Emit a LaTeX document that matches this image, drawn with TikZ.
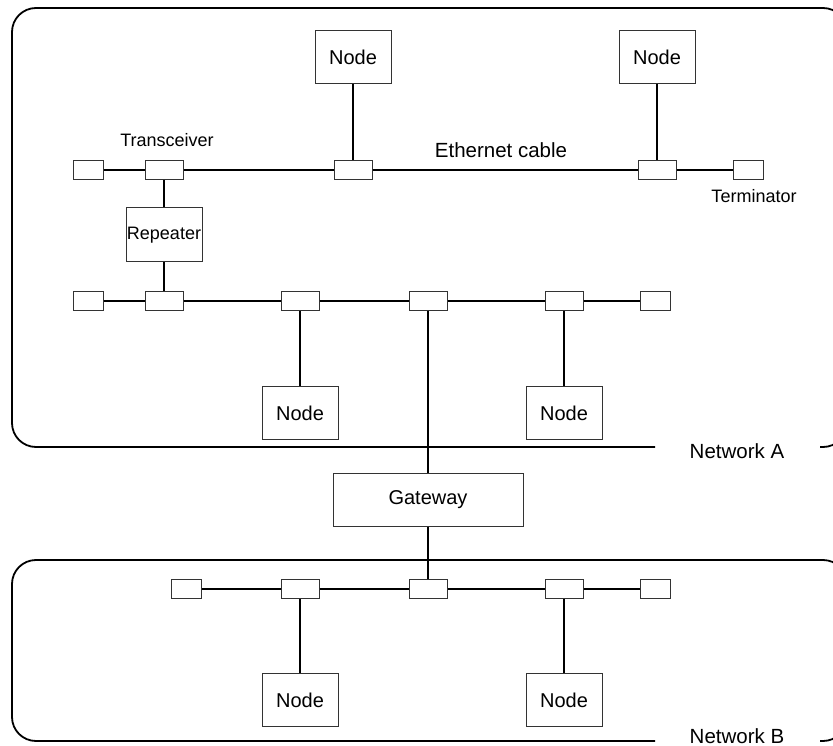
\documentclass[tikz,border=0pt]{standalone}
\usepackage{fontspec}
\setmainfont{Liberation Sans}
\begin{document}
\begin{tikzpicture}[x=1pt,y=-1pt,
  wire/.style={line width=1.8pt},
  frame/.style={line width=1.8pt, rounded corners=24pt},
  bx/.style={draw=black!80, line width=1pt, inner sep=0pt, fill=white},
  host/.style={bx, minimum width=76pt, minimum height=53pt, font=\fontsize{20}{24}\selectfont},
  trans/.style={bx, minimum width=38pt, minimum height=19pt},
  term/.style={bx, minimum width=30pt, minimum height=19pt},
  lbl/.style={font=\fontsize{18}{22}\selectfont, inner sep=0pt, anchor=base},
  biglbl/.style={font=\fontsize{20.5}{24}\selectfont, inner sep=0pt, anchor=base}]
\useasboundingbox (0,0) rectangle (833,746);
\clip (0,0) rectangle (833,746);

% network frames
\draw[frame] (655,447) -| (12,8) -| (847,447) -- (820,447);
\draw[frame] (655,741) -| (12,560) -| (847,741) -- (820,741);

% top bus
\node[term]  (a1) at (88,170) {};
\node[trans] (a2) at (164,170) {};
\node[trans] (a3) at (353,170) {};
\node[trans] (a4) at (657,170) {};
\node[term]  (a5) at (748,170) {};
\draw[wire] (a1)--(a2) (a2)--(a3) (a3)--(a4) (a4)--(a5);
\node[host] (n1) at (353,57) {Node};
\node[host] (n2) at (657,57) {Node};
\draw[wire] (n1)--(a3) (n2)--(a4);

% repeater
\node[bx, minimum width=76pt, minimum height=54pt, font=\fontsize{18}{22}\selectfont] (rep) at (164,235) {Repeater};

% second bus
\node[term]  (b1) at (88,301) {};
\node[trans] (b2) at (164,301) {};
\node[trans] (b3) at (300,301) {};
\node[trans] (b4) at (428,301) {};
\node[trans] (b5) at (564,301) {};
\node[term]  (b6) at (655,301) {};
\draw[wire] (b1)--(b2) (b2)--(b3) (b3)--(b4) (b4)--(b5) (b5)--(b6);
\draw[wire] (a2)--(rep) (rep)--(b2);
\node[host] (m1) at (300,413) {Node};
\node[host] (m2) at (564,413) {Node};
\draw[wire] (b3)--(m1) (b5)--(m2);

% gateway
\node[bx, minimum width=190pt, minimum height=53pt, font=\fontsize{20}{24}\selectfont] (gw) at (428,499.5) {Gateway};

% network B bus
\node[term]  (c1) at (186.5,589) {};
\node[trans] (c2) at (300,589) {};
\node[trans] (c3) at (428,589) {};
\node[trans] (c4) at (564,589) {};
\node[term]  (c5) at (655,589) {};
\draw[wire] (c1)--(c2) (c2)--(c3) (c3)--(c4) (c4)--(c5);
\draw[wire] (b4)--(gw) (gw)--(c3);
\node[host] (p1) at (300,700) {Node};
\node[host] (p2) at (564,700) {Node};
\draw[wire] (c2)--(p1) (c4)--(p2);

% labels
\node[lbl] (tl) at (167,147) {Transceiver};
\node[biglbl] (el) at (501,158) {Ethernet cable};
\node[lbl] (tml) at (754,203) {Terminator};
\node[biglbl] (na) at (737,458) {Network A};
\node[biglbl] (nb) at (737,743) {Network B};
\end{tikzpicture}
\end{document}
